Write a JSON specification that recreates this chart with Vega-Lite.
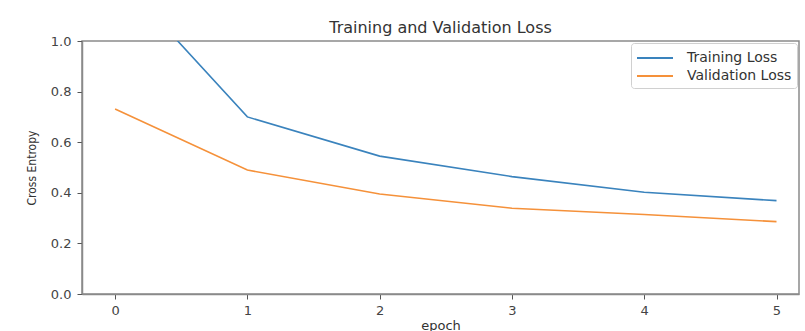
{
  "$schema": "https://vega.github.io/schema/vega-lite/v6.json",
  "width": 717,
  "height": 253,
  "autosize": {"type": "none"},
  "padding": {"left": 82, "top": 41, "right": 6, "bottom": 37},
  "background": "white",
  "title": {"text": "Training and Validation Loss", "fontSize": 16, "font": "DejaVu Sans", "fontWeight": "normal", "color": "#333333", "offset": -1},
  "data": {"values": [
    {"epoch": 0, "loss": 1.27, "series": "Training Loss"},
    {"epoch": 1, "loss": 0.70, "series": "Training Loss"},
    {"epoch": 2, "loss": 0.545, "series": "Training Loss"},
    {"epoch": 3, "loss": 0.464, "series": "Training Loss"},
    {"epoch": 4, "loss": 0.402, "series": "Training Loss"},
    {"epoch": 5, "loss": 0.369, "series": "Training Loss"},
    {"epoch": 0, "loss": 0.731, "series": "Validation Loss"},
    {"epoch": 1, "loss": 0.49, "series": "Validation Loss"},
    {"epoch": 2, "loss": 0.395, "series": "Validation Loss"},
    {"epoch": 3, "loss": 0.339, "series": "Validation Loss"},
    {"epoch": 4, "loss": 0.314, "series": "Validation Loss"},
    {"epoch": 5, "loss": 0.286, "series": "Validation Loss"}
  ]},
  "mark": {"type": "line", "clip": true, "strokeWidth": 1.6},
  "encoding": {
    "x": {
      "field": "epoch", "type": "quantitative",
      "scale": {"domain": [-0.25, 5.17], "nice": false, "zero": false},
      "axis": {"values": [0, 1, 2, 3, 4, 5], "format": "d", "title": "epoch", "grid": false, "tickSize": 5, "labelPadding": 5, "titlePadding": 2, "titleFontSize": 13}
    },
    "y": {
      "field": "loss", "type": "quantitative",
      "scale": {"domain": [0, 1], "nice": false},
      "axis": {"values": [0, 0.2, 0.4, 0.6, 0.8, 1.0], "format": ".1f", "title": "Cross Entropy", "grid": false, "tickSize": 5, "labelPadding": 6, "titlePadding": 12, "titleFont": "DejaVu Sans Condensed", "titleFontSize": 12}
    },
    "color": {
      "field": "series", "type": "nominal",
      "scale": {"domain": ["Training Loss", "Validation Loss"], "range": ["#3a83bd", "#f5913a"]},
      "legend": {
        "title": null, "orient": "top-right", "offset": 2,
        "symbolType": "M-1,0H3", "symbolSize": 324, "symbolStrokeWidth": 2, "symbolFillColor": "transparent",
        "labelOffset": 31, "labelFontSize": 14, "labelFont": "DejaVu Sans", "labelColor": "#333333",
        "rowPadding": 1, "padding": 5,
        "fillColor": "white", "strokeColor": "#d0d0d0", "cornerRadius": 3
      }
    }
  },
  "config": {
    "view": {"stroke": "#8a8a8a", "strokeWidth": 1.5},
    "axis": {
      "domainColor": "#8a8a8a", "domainWidth": 1.5, "tickColor": "#555555", "tickWidth": 1,
      "labelFont": "DejaVu Sans", "labelFontSize": 13, "labelColor": "#444444",
      "titleFont": "DejaVu Sans", "titleFontSize": 14, "titleFontWeight": "normal", "titleColor": "#333333"
    }
  }
}
